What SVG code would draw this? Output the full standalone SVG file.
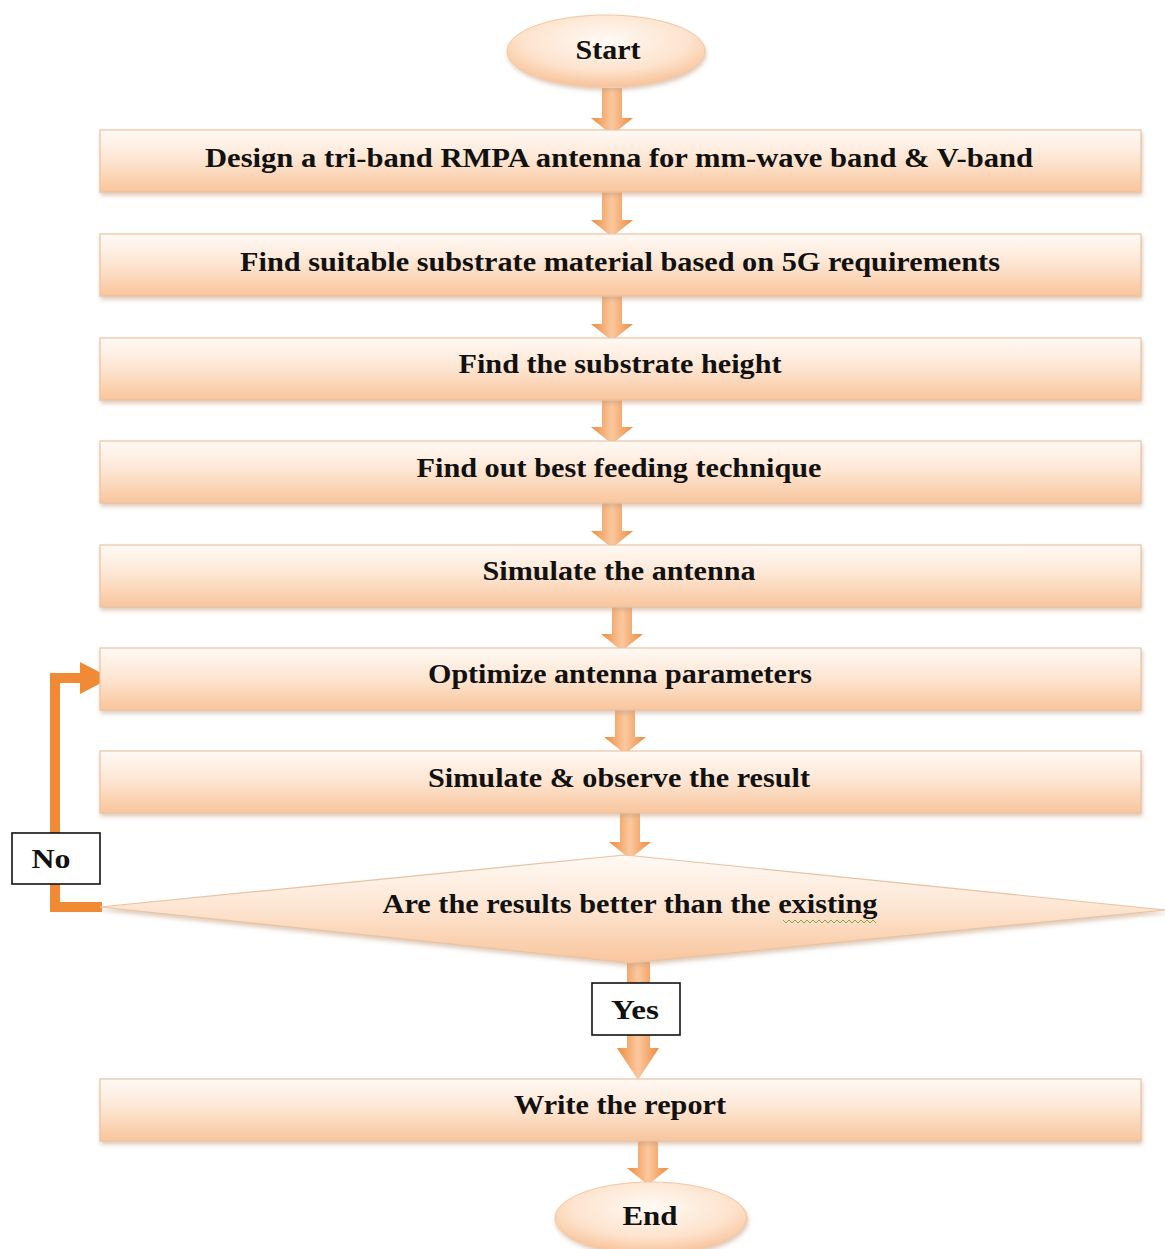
<svg xmlns="http://www.w3.org/2000/svg" width="1165" height="1249" viewBox="0 0 1165 1249">
<defs>
<linearGradient id="boxg" x1="0" y1="0" x2="0" y2="1">
<stop offset="0" stop-color="#fffaf5"/>
<stop offset="0.45" stop-color="#fde7d5"/>
<stop offset="1" stop-color="#f9c59c"/>
</linearGradient>
<radialGradient id="ellg" cx="0.5" cy="0.35" r="0.7">
<stop offset="0" stop-color="#fffaf5"/>
<stop offset="0.6" stop-color="#fde3cd"/>
<stop offset="1" stop-color="#f7bb8e"/>
</radialGradient>
<linearGradient id="arrg" x1="0" y1="0" x2="1" y2="0">
<stop offset="0" stop-color="#ee8a3c"/>
<stop offset="0.5" stop-color="#fbc9a0"/>
<stop offset="1" stop-color="#ee8a3c"/>
</linearGradient>
<filter id="sh" x="-5%" y="-20%" width="110%" height="150%">
<feDropShadow dx="1" dy="3" stdDeviation="2" flood-color="#c8a080" flood-opacity="0.55"/>
</filter>
</defs>
<style>
.box{fill:url(#boxg);stroke:#e6c4a6;stroke-width:1.2;filter:url(#sh)}
.ell{fill:url(#ellg);stroke:#f0c8a6;stroke-width:1;filter:url(#sh)}
.arr{fill:url(#arrg)}
.t{font-family:"Liberation Serif","Times New Roman",serif;font-weight:bold;font-size:27px;fill:#111;text-anchor:middle}
.lbl{fill:#fff;stroke:#111;stroke-width:1.6}
.loop{fill:none;stroke:#f08a34;stroke-width:10}
</style>

<g id="connectors">
<polygon class="arr" points="602,88 622,88 622,118 633,118 612,135 591,118 602,118"/>
<polygon class="arr" points="602,192 622,192 622,220 633,220 612,237 591,220 602,220"/>
<polygon class="arr" points="602,296 622,296 622,324 633,324 612,341 591,324 602,324"/>
<polygon class="arr" points="602,400 622,400 622,427 633,427 612,444 591,427 602,427"/>
<polygon class="arr" points="602,503 622,503 622,531 633,531 612,548 591,531 602,531"/>
<polygon class="arr" points="612,607 632,607 632,634 643,634 622,651 601,634 612,634"/>
<polygon class="arr" points="615,710 635,710 635,737 646,737 625,754 604,737 615,737"/>
<polygon class="arr" points="620,813 640,813 640,842 651,842 630,859 609,842 620,842"/>
<polygon class="arr" points="627,962 650,962 650,1048 659,1048 638,1080 617,1048 627,1048"/>
<polygon class="arr" points="638,1141 658,1141 658,1168 669,1168 648,1185 627,1168 638,1168"/>
<path class="loop" d="M102,907 H55 V678 H86"/>
<polygon points="80,662 111,678 80,694" fill="#f08a34"/>
</g>

<g id="start">
<ellipse class="ell" cx="606" cy="51" rx="99" ry="36"/>
<text class="t" x="608" y="59" textLength="65" lengthAdjust="spacingAndGlyphs">Start</text>
</g>

<g id="n1">
<rect class="box" x="100" y="130" width="1041" height="62"/>
<text class="t" x="619" y="167" textLength="828" lengthAdjust="spacingAndGlyphs">Design a tri-band RMPA antenna for mm-wave band &amp; V-band</text>
</g>
<g id="n2">
<rect class="box" x="100" y="234" width="1041" height="62"/>
<text class="t" x="620" y="271" textLength="760" lengthAdjust="spacingAndGlyphs">Find suitable substrate material based on 5G requirements</text>
</g>
<g id="n3">
<rect class="box" x="100" y="338" width="1041" height="62"/>
<text class="t" x="620" y="373" textLength="323" lengthAdjust="spacingAndGlyphs">Find the substrate height</text>
</g>
<g id="n4">
<rect class="box" x="100" y="441" width="1041" height="62"/>
<text class="t" x="619" y="477" textLength="405" lengthAdjust="spacingAndGlyphs">Find out best feeding technique</text>
</g>
<g id="n5">
<rect class="box" x="100" y="545" width="1041" height="62"/>
<text class="t" x="619" y="580" textLength="273" lengthAdjust="spacingAndGlyphs">Simulate the antenna</text>
</g>
<g id="n6">
<rect class="box" x="100" y="648" width="1041" height="62"/>
<text class="t" x="620" y="683" textLength="384" lengthAdjust="spacingAndGlyphs">Optimize antenna parameters</text>
</g>
<g id="n7">
<rect class="box" x="100" y="751" width="1041" height="62"/>
<text class="t" x="619" y="787" textLength="382" lengthAdjust="spacingAndGlyphs">Simulate &amp; observe the result</text>
</g>

<g id="decision">
<polygon class="box" points="100,907 625,855 1165,910 630,963"/>
<text class="t" x="630" y="913" textLength="495" lengthAdjust="spacingAndGlyphs">Are the results better than the existing</text>
<path d="M783,920 l3,3 l3,-3 l3,3 l3,-3 l3,3 l3,-3 l3,3 l3,-3 l3,3 l3,-3 l3,3 l3,-3 l3,3 l3,-3 l3,3 l3,-3 l3,3 l3,-3 l3,3 l3,-3 l3,3 l3,-3 l3,3 l3,-3 l3,3 l3,-3 l3,3 l3,-3 l3,3 l3,-3 l3,3" fill="none" stroke="#7aa84a" stroke-width="1"/>
</g>

<g id="no">
<rect class="lbl" x="12" y="833" width="88" height="51"/>
<text class="t" x="51" y="868" textLength="39" lengthAdjust="spacingAndGlyphs">No</text>
</g>
<g id="yes">
<rect class="lbl" x="592" y="983" width="88" height="52"/>
<text class="t" x="635" y="1019" textLength="48" lengthAdjust="spacingAndGlyphs">Yes</text>
</g>

<g id="n8">
<rect class="box" x="100" y="1079" width="1041" height="62"/>
<text class="t" x="620" y="1114" textLength="212" lengthAdjust="spacingAndGlyphs">Write the report</text>
</g>

<g id="end">
<ellipse class="ell" cx="651" cy="1218" rx="96" ry="36"/>
<text class="t" x="650" y="1225" textLength="55" lengthAdjust="spacingAndGlyphs">End</text>
</g>
</svg>
